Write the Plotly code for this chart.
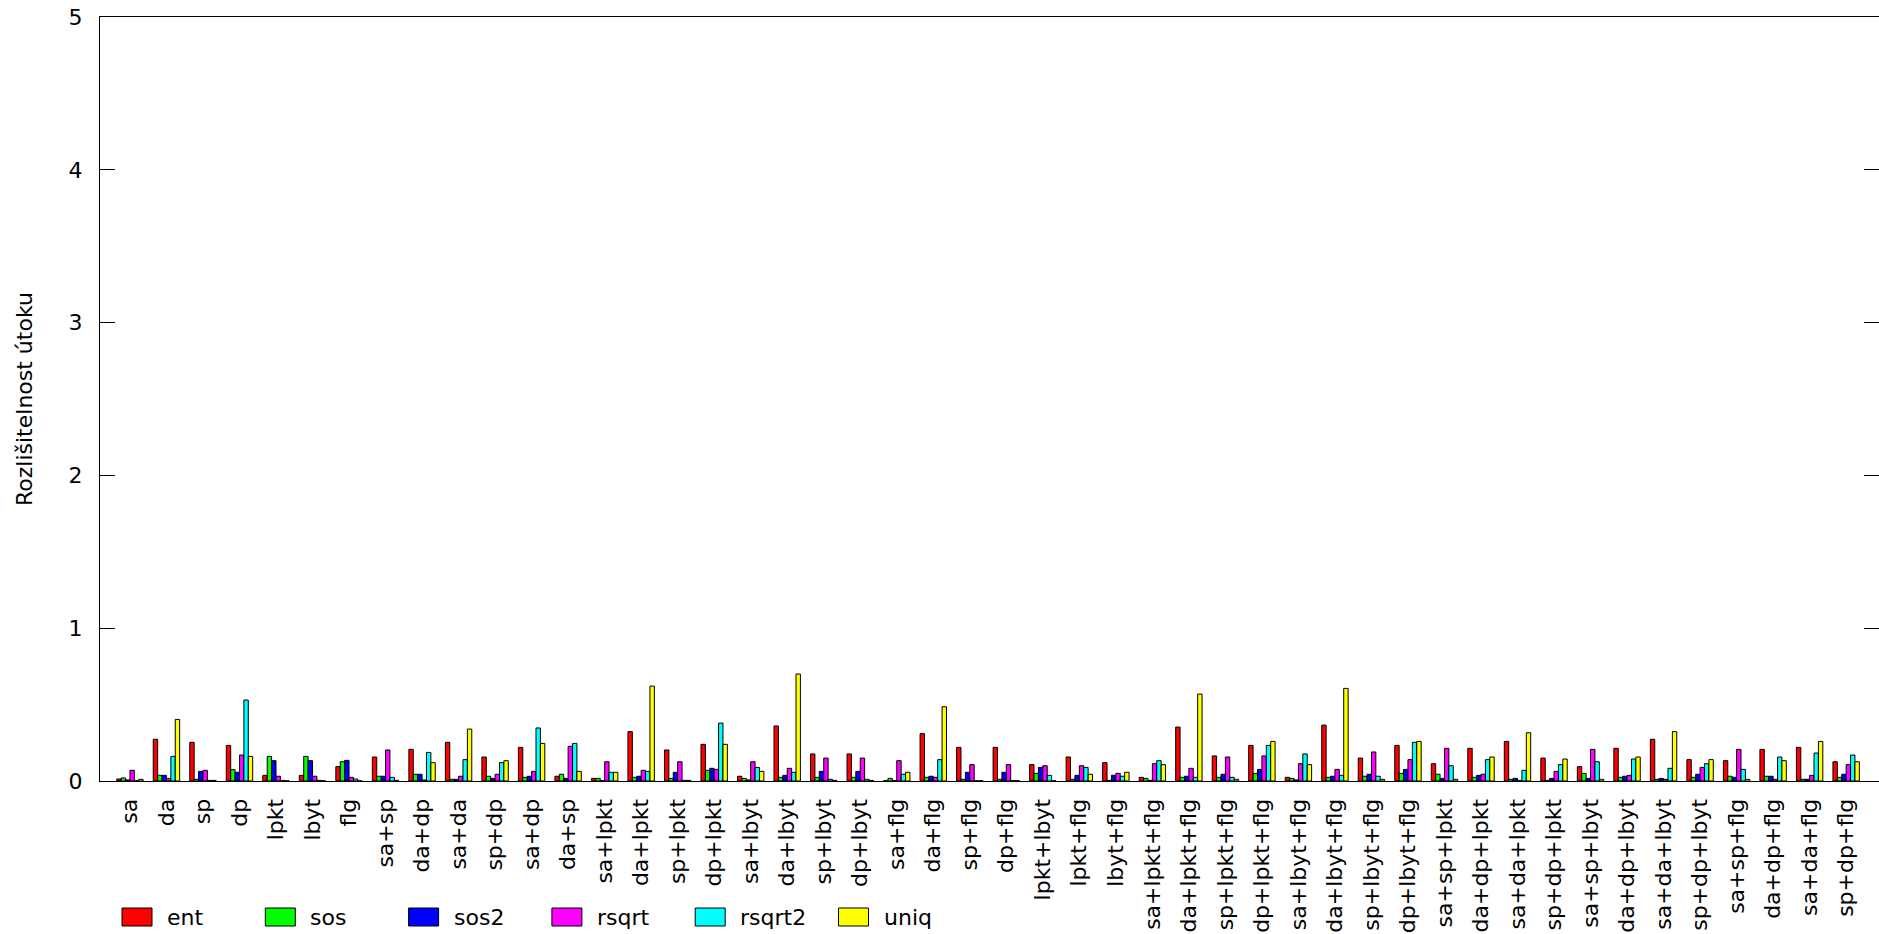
import plotly.graph_objects as go

# Attack distinguishability per feature combination and metric
categories = [
    "sa", "da", "sp", "dp", "lpkt", "lbyt", "flg",
    "sa+sp", "da+dp", "sa+da", "sp+dp", "sa+dp", "da+sp",
    "sa+lpkt", "da+lpkt", "sp+lpkt", "dp+lpkt",
    "sa+lbyt", "da+lbyt", "sp+lbyt", "dp+lbyt",
    "sa+flg", "da+flg", "sp+flg", "dp+flg",
    "lpkt+lbyt", "lpkt+flg", "lbyt+flg",
    "sa+lpkt+flg", "da+lpkt+flg", "sp+lpkt+flg", "dp+lpkt+flg",
    "sa+lbyt+flg", "da+lbyt+flg", "sp+lbyt+flg", "dp+lbyt+flg",
    "sa+sp+lpkt", "da+dp+lpkt", "sa+da+lpkt", "sp+dp+lpkt",
    "sa+sp+lbyt", "da+dp+lbyt", "sa+da+lbyt", "sp+dp+lbyt",
    "sa+sp+flg", "da+dp+flg", "sa+da+flg", "sp+dp+flg",
]

ent = [0.013, 0.273, 0.253, 0.233, 0.037, 0.037, 0.094,
       0.157, 0.207, 0.253, 0.157, 0.220, 0.031,
       0.017, 0.323, 0.203, 0.240,
       0.031, 0.360, 0.177, 0.177,
       0.002, 0.310, 0.220, 0.220,
       0.107, 0.157, 0.120,
       0.024, 0.353, 0.164, 0.233,
       0.024, 0.366, 0.150, 0.233,
       0.113, 0.214, 0.259, 0.150,
       0.094, 0.214, 0.273, 0.140,
       0.133, 0.207, 0.220, 0.126]

sos = [0.020, 0.037, 0.011, 0.074, 0.161, 0.161, 0.126,
       0.031, 0.044, 0.011, 0.031, 0.024, 0.044,
       0.017, 0.024, 0.017, 0.070,
       0.017, 0.024, 0.024, 0.024,
       0.017, 0.024, 0.011, 0.011,
       0.050, 0.011, 0.004,
       0.017, 0.024, 0.024, 0.050,
       0.017, 0.024, 0.031, 0.050,
       0.044, 0.024, 0.011, 0.004,
       0.050, 0.024, 0.011, 0.024,
       0.031, 0.031, 0.011, 0.024]

sos2 = [0.007, 0.037, 0.063, 0.057, 0.133, 0.133, 0.135,
        0.031, 0.044, 0.011, 0.017, 0.031, 0.017,
        0.002, 0.031, 0.057, 0.083,
        0.007, 0.037, 0.063, 0.063,
        0.002, 0.031, 0.057, 0.057,
        0.089, 0.037, 0.037,
        0.004, 0.031, 0.044, 0.076,
        0.007, 0.031, 0.044, 0.076,
        0.017, 0.037, 0.017, 0.017,
        0.017, 0.031, 0.017, 0.044,
        0.024, 0.031, 0.011, 0.044]

rsqrt = [0.070, 0.017, 0.070, 0.170, 0.031, 0.031, 0.024,
         0.203, 0.007, 0.031, 0.044, 0.063, 0.227,
         0.126, 0.070, 0.126, 0.076,
         0.126, 0.083, 0.150, 0.150,
         0.133, 0.024, 0.107, 0.107,
         0.100, 0.100, 0.050,
         0.113, 0.083, 0.157, 0.164,
         0.113, 0.076, 0.190, 0.140,
         0.214, 0.044, 0.004, 0.063,
         0.207, 0.037, 0.011, 0.089,
         0.207, 0.011, 0.037, 0.107]

rsqrt2 = [0.002, 0.161, 0.004, 0.530, 0.004, 0.004, 0.013,
          0.024, 0.187, 0.140, 0.120, 0.347, 0.246,
          0.057, 0.063, 0.004, 0.379,
          0.089, 0.057, 0.011, 0.011,
          0.044, 0.140, 0.002, 0.002,
          0.037, 0.089, 0.031,
          0.133, 0.024, 0.024, 0.233,
          0.177, 0.037, 0.031, 0.253,
          0.100, 0.140, 0.070, 0.107,
          0.126, 0.144, 0.083, 0.113,
          0.076, 0.157, 0.183, 0.170]

uniq = [0.011, 0.403, 0.004, 0.161, 0.001, 0.001, 0.001,
        0.004, 0.120, 0.340, 0.133, 0.246, 0.063,
        0.057, 0.621, 0.004, 0.240,
        0.063, 0.700, 0.004, 0.004,
        0.057, 0.486, 0.002, 0.002,
        0.001, 0.044, 0.057,
        0.107, 0.569, 0.011, 0.259,
        0.107, 0.606, 0.011, 0.259,
        0.011, 0.157, 0.316, 0.144,
        0.011, 0.157, 0.323, 0.140,
        0.011, 0.133, 0.259, 0.126]

series_names = ["ent", "sos", "sos2", "rsqrt", "rsqrt2", "uniq"]
series_values = [ent, sos, sos2, rsqrt, rsqrt2, uniq]
series_colors = ["#ff0000", "#00ff00", "#0000ff", "#ff00ff", "#00ffff", "#ffff00"]

y_ticks = [0, 1, 2, 3, 4, 5]
y_title = "Rozlišitelnost útoku"

FONT = "DejaVu Sans"
FS = 22

fig = go.Figure()
x_idx = list(range(len(categories)))
for name, vals, col in zip(series_names, series_values, series_colors):
    fig.add_trace(go.Bar(
        x=x_idx, y=vals, name=name,
        marker=dict(color=col, line=dict(color="#000000", width=1)),
        showlegend=False,
    ))

W, H = 1879, 934
ML, MR, MT, MB = 100, 0, 17, 153
plot_w = W - ML - MR
plot_h = H - MT - MB

# Key along the bottom: swatch boxes followed by labels
shapes = []
annotations = []
key_x0, key_step = 122, 143.3
box_w, box_top, box_bot = 30, 908, 926
for k, (name, col) in enumerate(zip(series_names, series_colors)):
    px0 = key_x0 + k * key_step
    shapes.append(dict(
        type="rect", xref="paper", yref="paper",
        x0=(px0 - ML) / plot_w, x1=(px0 + box_w - ML) / plot_w,
        y0=(H - MB - box_bot) / plot_h, y1=(H - MB - box_top) / plot_h,
        fillcolor=col, line=dict(color="#000000", width=1),
    ))
    annotations.append(dict(
        xref="paper", yref="paper",
        x=(px0 + box_w + 13 - ML) / plot_w,
        y=(H - MB - (box_top + box_bot) / 2) / plot_h,
        text=name, showarrow=False, xanchor="left", yanchor="middle",
        font=dict(family=FONT, size=FS, color="#000000"),
    ))

annotations.append(dict(
    xref="paper", yref="paper", x=0, xshift=-76, y=0.5,
    text=y_title, textangle=-90, showarrow=False,
    xanchor="center", yanchor="middle",
    font=dict(family=FONT, size=FS, color="#000000"),
))

fig.update_layout(
    width=W, height=H,
    margin=dict(l=ML, r=MR, t=MT, b=MB, pad=0),
    paper_bgcolor="#ffffff", plot_bgcolor="#ffffff",
    barmode="group", bargap=0.277, bargroupgap=0,
    font=dict(family=FONT, size=FS, color="#000000"),
    shapes=shapes, annotations=annotations,
    xaxis=dict(
        range=[-0.82, 47.9],
        tickmode="array", tickvals=x_idx, ticktext=categories,
        tickangle=-90, ticks="", showgrid=False, zeroline=False,
        showline=True, linecolor="#000000", linewidth=1, mirror=True,
        ticklabelstandoff=8,
        tickfont=dict(family=FONT, size=FS, color="#000000"),
    ),
    yaxis=dict(
        range=[0, 5], tickmode="array", tickvals=y_ticks,
        ticks="inside", ticklen=15, tickcolor="#000000", tickwidth=1,
        showgrid=False, zeroline=False,
        showline=True, linecolor="#000000", linewidth=1, mirror="ticks",
        ticklabelstandoff=12,
        tickfont=dict(family=FONT, size=FS, color="#000000"),
    ),
)

fig.write_html("out.html")
